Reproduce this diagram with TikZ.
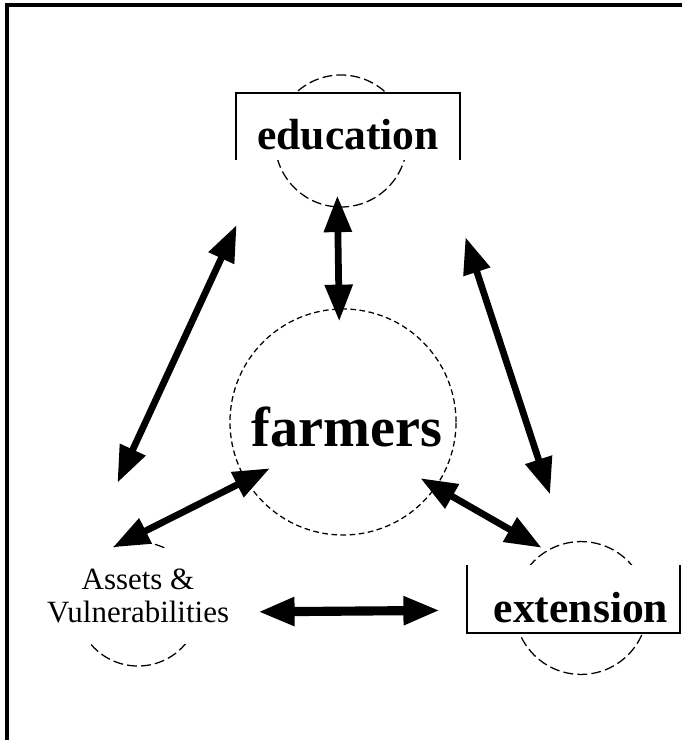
\documentclass[tikz,border=0pt]{standalone}
\usepackage{fontspec}
\setmainfont{Liberation Serif}
\usetikzlibrary{arrows.meta, positioning, calc}
\tikzset{
  ring/.style={draw, circle, line width=0.9pt, dash pattern=on 7pt off 3pt, inner sep=0pt},
  panel/.style={fill=white, inner sep=0pt, outer sep=0pt},
  rim/.style={line width=1.8pt},
  word/.style={font=\bfseries\fontsize{31}{34}\selectfont, inner sep=0pt},
  bigword/.style={font=\bfseries\fontsize{40}{44}\selectfont, inner sep=0pt},
  link/.style={{Triangle[length=26pt, width=19pt]}-{Triangle[length=26pt, width=19pt]}, line width=4.8pt}
}

\begin{document}
\begin{tikzpicture}[x=0.025cm, y=-0.025cm]
        \useasboundingbox (0,0) rectangle (682,740);
        % Frame
        \draw[line width=2.2pt] (7,740) -- (7,5) -- (682,5);

        % Circles
        \node[ring, minimum size=3.3cm] (edu) at (341,141) {};
        \node[ring, minimum size=3.32cm] (ext) at (581,608) {};
        \node[ring, minimum size=3.1cm] (assets) at (138,604) {};
        \node[ring, dash pattern=on 4pt off 2.5pt, minimum size=5.65cm] (farm) at (343,422) {};

        % Boxes and labels
        \node[panel, minimum width=5.6cm, minimum height=1.675cm] (eduBox) at (348,126.5) {};
        \draw[rim] (eduBox.south west) -- (eduBox.north west) -- (eduBox.north east) -- (eduBox.south east);
        \node[word] (eduTxt) at (348,135) {education};

        \node[panel, minimum width=5.325cm, minimum height=1.7cm] (extBox) at (573.5,599) {};
        \draw[rim] (extBox.north west) -- (extBox.south west) -- (extBox.south east) -- (extBox.north east);
        \node[word] (extTxt) at (581,607.5) {extension};

        \node[bigword] (farmTxt) at (347,427) {farmers};

        \node[panel, minimum width=4.4cm, minimum height=2.375cm, align=center,
              font=\fontsize{22}{23.5}\selectfont] (assetsTxt) at (138,596) {Assets \&\\Vulnerabilities};

        % Links
        \draw[link, shorten <=-0.30cm, shorten >=-0.32cm] (edu.267) -- (farm.92);
        \draw[link, shorten <=2.25cm, shorten >=1.81cm] (edu.182) -- (assetsTxt.137);
        \draw[link, shorten <=2.03cm, shorten >=1.27cm] (eduBox.340) -- (ext.103);
        \draw[link, shorten <=-0.68cm, shorten >=-0.16cm] (farm.211) -- (assets.108);
        \draw[link, shorten <=-0.45cm, shorten >=0.14cm] (farm.325) -- (ext.121);
        \draw[link, line width=6.5pt, shorten <=0.725cm, shorten >=0.675cm] (assetsTxt.350) -- (extBox.186);
    \end{tikzpicture}
\end{document}
